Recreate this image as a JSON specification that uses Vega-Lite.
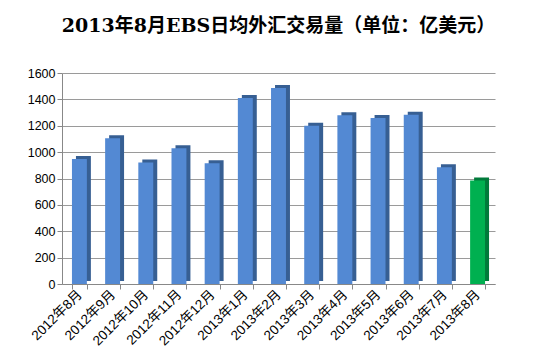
{
  "$schema": "https://vega.github.io/schema/vega-lite/v6.json",
  "autosize": {"type": "none"},
  "width": 433,
  "height": 211,
  "padding": {"left": 62, "top": 73, "right": 51, "bottom": 76},
  "background": "white",
  "title": {
    "text": "2013年8月EBS日均外汇交易量（单位：亿美元）",
    "font": "DejaVu Serif, Noto Sans CJK SC",
    "fontSize": 19,
    "fontWeight": "bold",
    "color": "#000000",
    "anchor": "middle",
    "offset": 31
  },
  "data": {
    "values": [
      {"month": "2012年8月", "value": 948, "group": "a"},
      {"month": "2012年9月", "value": 1106, "group": "a"},
      {"month": "2012年10月", "value": 922, "group": "a"},
      {"month": "2012年11月", "value": 1030, "group": "a"},
      {"month": "2012年12月", "value": 915, "group": "a"},
      {"month": "2013年1月", "value": 1410, "group": "a"},
      {"month": "2013年2月", "value": 1486, "group": "a"},
      {"month": "2013年3月", "value": 1200, "group": "a"},
      {"month": "2013年4月", "value": 1279, "group": "a"},
      {"month": "2013年5月", "value": 1258, "group": "a"},
      {"month": "2013年6月", "value": 1283, "group": "a"},
      {"month": "2013年7月", "value": 886, "group": "a"},
      {"month": "2013年8月", "value": 785, "group": "b"}
    ]
  },
  "encoding": {
    "x": {
      "field": "month",
      "type": "nominal",
      "sort": null,
      "scale": {"paddingInner": 0.55, "paddingOuter": 0.3},
      "axis": {
        "title": null,
        "labelAngle": -45,
        "labelAlign": "right",
        "labelBaseline": "middle",
        "labelFont": "Liberation Sans, Noto Sans CJK SC",
        "labelFontSize": 13.5,
        "labelColor": "#000000",
        "labelPadding": 3,
        "tickBand": "extent",
        "tickColor": "#888888",
        "tickSize": 5,
        "domainColor": "#888888",
        "grid": false
      }
    },
    "y": {
      "field": "value",
      "type": "quantitative",
      "scale": {"domain": [0, 1600]},
      "axis": {
        "title": null,
        "values": [0, 200, 400, 600, 800, 1000, 1200, 1400, 1600],
        "format": "d",
        "labelFont": "Liberation Sans",
        "labelFontSize": 12.5,
        "labelColor": "#000000",
        "tickColor": "#888888",
        "tickSize": 5,
        "domainColor": "#888888",
        "gridColor": "#9a9a9a",
        "gridWidth": 1.2
      }
    }
  },
  "layer": [
    {
      "mark": {"type": "bar", "xOffset": 4, "yOffset": -3},
      "encoding": {
        "color": {
          "field": "group",
          "type": "nominal",
          "scale": {"domain": ["a", "b"], "range": ["#375F93", "#007A3A"]},
          "legend": null
        }
      }
    },
    {
      "mark": {"type": "bar"},
      "encoding": {
        "color": {
          "field": "group",
          "type": "nominal",
          "scale": {"domain": ["a", "b"], "range": ["#5389D3", "#00B050"]},
          "legend": null
        }
      }
    }
  ],
  "resolve": {"scale": {"color": "independent"}},
  "config": {
    "view": {"stroke": null}
  }
}
